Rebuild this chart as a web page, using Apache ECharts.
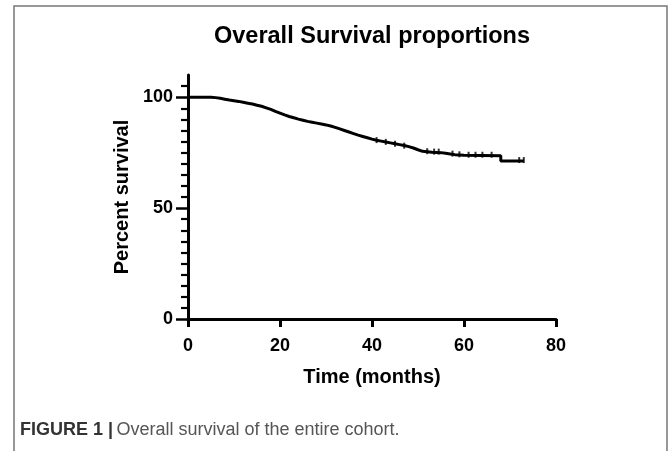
<!DOCTYPE html>
<html><head><meta charset="utf-8">
<script src="https://cdn.jsdelivr.net/npm/echarts@6/dist/echarts.min.js"></script>
<style>html,body{margin:0;padding:0;background:#fff}#c{width:669px;height:451px}</style>
</head><body><div id="c"></div>
<script>
// Kaplan-Meier step points: time (months) and percent survival
const stepTimes = [0, 4, 5, 6, 7, 8, 9, 10, 11, 12, 13, 14, 15, 16, 17, 18, 19, 20, 21, 22, 23, 24, 25, 26, 27, 28, 29, 30, 31, 32, 33, 34, 35, 36, 37, 38, 39, 40, 41, 42, 43, 44, 45, 46, 47, 48, 49, 50, 51, 53, 55, 56, 57, 58, 60, 68, 73];
const stepSurv  = [100, 100, 99.8, 99.5, 99.1, 98.7, 98.4, 98.1, 97.7, 97.3, 96.9, 96.4, 95.9, 95.2, 94.5, 93.6, 92.8, 92.0, 91.3, 90.7, 90.1, 89.6, 89.1, 88.7, 88.3, 87.9, 87.5, 87.0, 86.4, 85.7, 85.0, 84.3, 83.6, 82.9, 82.3, 81.7, 81.1, 80.6, 80.2, 79.8, 79.4, 79.0, 78.6, 78.2, 77.7, 77.1, 76.3, 75.6, 75.2, 75.0, 74.7, 74.4, 74.1, 73.8, 73.6, 71.2, 71.2];
// censored observations
const censorTimes = [41, 43, 45, 47, 52, 53.5, 54.5, 57.5, 59, 61, 62.5, 64, 66, 72, 73];
const censorSurv  = [80.2, 79.4, 78.6, 77.7, 75.2, 75.0, 75.0, 74.1, 73.8, 73.6, 73.6, 73.6, 73.6, 71.2, 71.2];
const xTicks = [0, 20, 40, 60, 80];
const yLabelTicks = [0, 50, 100];

const chart = echarts.init(document.getElementById('c'));
const F = '"Liberation Sans", Arial, sans-serif';
chart.setOption({
  animation: false,
  title: {
    text: 'Overall Survival proportions', left: 367, top: 20, textAlign: 'center',
    textStyle: {fontFamily: F, fontWeight: 'bold', fontSize: 23.5, color: '#000'}
  },
  grid: {left: 188, right: 113, top: 75, bottom: 132, containLabel: false},
  xAxis: {
    type: 'value', min: 0, max: 80, interval: 20,
    axisLine: {onZero: false, lineStyle: {color: '#000', width: 3}},
    axisTick: {show: true, length: 8, lineStyle: {color: '#000', width: 3}},
    axisLabel: {fontFamily: F, fontWeight: 'bold', fontSize: 18, color: '#000', margin: 18,
      formatter: v => xTicks.includes(v) ? String(v) : ''},
    splitLine: {show: false},
    name: 'Time (months)', nameLocation: 'middle', nameGap: 48,
    nameTextStyle: {fontFamily: F, fontWeight: 'bold', fontSize: 20, color: '#000'}
  },
  yAxis: {
    type: 'value', min: 0, max: 110, interval: 50,
    axisLine: {show: true, lineStyle: {color: '#000', width: 3}},
    axisTick: {show: true, length: 12, customValues: [0, 50, 100], lineStyle: {color: '#000', width: 2.5}},
    minorTick: {show: true, splitNumber: 10, length: 7, lineStyle: {color: '#000', width: 2.2}},
    axisLabel: {fontFamily: F, fontWeight: 'bold', fontSize: 18, color: '#000', margin: 15,
      customValues: yLabelTicks},
    splitLine: {show: false},
    name: 'Percent survival', nameLocation: 'middle', nameGap: 55,
    nameTextStyle: {fontFamily: F, fontWeight: 'bold', fontSize: 20, color: '#000'}
  },
  series: [
    {
      type: 'line', step: 'end', symbol: 'none',
      lineStyle: {color: '#000', width: 3},
      data: stepTimes.map((t, i) => [t, stepSurv[i]])
    },
    {
      type: 'scatter', symbol: 'rect', symbolSize: [2, 6], symbolOffset: [0, -1],
      itemStyle: {color: '#000'},
      data: censorTimes.map((t, i) => [t, censorSurv[i]])
    }
  ],
  graphic: [
    {type: 'rect', shape: {x: 14, y: 6, width: 653, height: 470}, style: {fill: 'none', stroke: '#777', lineWidth: 1.5}, silent: true},
    {type: 'text', left: 20, top: 421, style: {
      text: '{b|FIGURE 1 |} {n|Overall survival of the entire cohort.}',
      rich: {
        b: {fontFamily: F, fontWeight: 'bold', fontSize: 18, fill: '#333'},
        n: {fontFamily: F, fontSize: 18, fill: '#555'}
      }
    }}
  ]
});
</script>
</body></html>
